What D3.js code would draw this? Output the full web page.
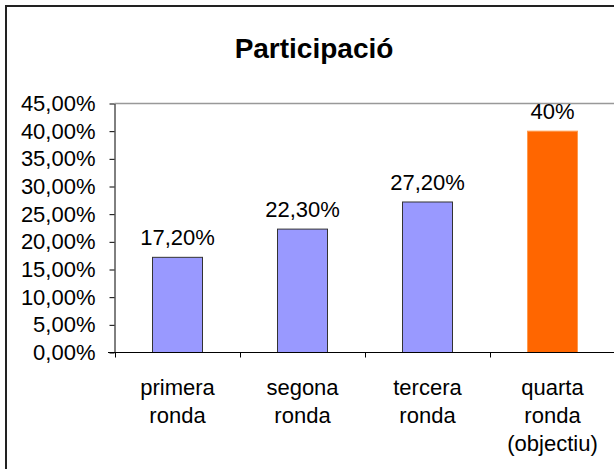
<!DOCTYPE html>
<html>
<head>
<meta charset="utf-8">
<script src="https://cdn.jsdelivr.net/npm/d3@7"></script>
<style>
  body { margin: 0; background: #fff; }
  text { font-family: "Liberation Sans", Arial, sans-serif; fill: #000; }
</style>
</head>
<body>
<div id="chart"></div>
<script>
// data
var categories = ["primera ronda", "segona ronda", "tercera ronda", "quarta ronda (objectiu)"];
var categoryLines = [["primera", "ronda"], ["segona", "ronda"], ["tercera", "ronda"], ["quarta", "ronda", "(objectiu)"]];
var values = [0.172, 0.223, 0.272, 0.40];
var valueLabels = ["17,20%", "22,30%", "27,20%", "40%"];
var barColors = ["#9999ff", "#9999ff", "#9999ff", "#ff6600"];
var yTicks = [0, 0.05, 0.10, 0.15, 0.20, 0.25, 0.30, 0.35, 0.40, 0.45];

var svgWidth = 614;
var svgHeight = 469;

var svg = d3.select("#chart")
    .append("svg")
    .attr("width", svgWidth)
    .attr("height", svgHeight);

// chart frame (runs off the right and bottom edges)
svg.append("rect")
    .attr("x", 6)
    .attr("y", 6)
    .attr("width", svgWidth + 20)
    .attr("height", svgHeight + 20)
    .attr("fill", "none")
    .attr("stroke", "#222")
    .attr("stroke-width", 2);

// title
svg.append("text")
    .attr("x", 314)
    .attr("y", 58)
    .attr("text-anchor", "middle")
    .attr("font-size", 28)
    .attr("font-weight", "bold")
    .text("Participació");

var locale = d3.formatLocale({ decimal: ",", thousands: ".", grouping: [3], currency: ["", "€"] });
var pct = locale.format(".2%");

var xScale = d3.scaleBand()
    .domain(categories)
    .range([115, 615])
    .paddingInner(0.6)
    .paddingOuter(0.3);

var yScale = d3.scaleLinear()
    .domain([0, 0.45])
    .range([352.5, 103.5]);

// top gridline
svg.append("line")
    .attr("x1", 114.5)
    .attr("x2", svgWidth)
    .attr("y1", yScale(0.45))
    .attr("y2", yScale(0.45))
    .attr("stroke", "#999")
    .attr("stroke-width", 1.5);

// bars
svg.append("g")
    .selectAll("rect")
    .data(values)
    .enter()
    .append("rect")
    .attr("x", (d, i) => xScale(categories[i]))
    .attr("y", d => yScale(d))
    .attr("width", xScale.bandwidth())
    .attr("height", d => yScale(0) - yScale(d))
    .attr("fill", (d, i) => barColors[i])
    .attr("stroke", (d, i) => i == 3 ? "#ff9a4d" : "#333")
    .attr("stroke-width", 1);

// value labels
svg.append("g")
    .selectAll("text")
    .data(values)
    .enter()
    .append("text")
    .attr("x", (d, i) => xScale(categories[i]) + xScale.bandwidth() / 2)
    .attr("y", d => yScale(d) - 12)
    .attr("text-anchor", "middle")
    .attr("font-size", 22)
    .text((d, i) => valueLabels[i]);

// y axis
var leftAxis = d3.axisLeft(yScale)
    .tickValues(yTicks)
    .tickFormat(pct)
    .tickSizeInner(5)
    .tickSizeOuter(0)
    .tickPadding(14);

var yAxis = svg.append("g")
    .attr("transform", "translate(114.5, 0)")
    .call(leftAxis);

yAxis.selectAll("text")
    .attr("font-size", 22)
    .attr("font-family", null);
yAxis.selectAll("line, path").attr("stroke", "#000");

// x axis: ticks at category boundaries
var boundaries = categories.map(c => xScale(c) - xScale.step() * xScale.paddingOuter());
var xAxisG = svg.append("g");

xAxisG.append("line")
    .attr("x1", 108)
    .attr("x2", svgWidth)
    .attr("y1", yScale(0))
    .attr("y2", yScale(0))
    .attr("stroke", "#000");

xAxisG.selectAll(".xtick")
    .data(boundaries)
    .enter()
    .append("line")
    .attr("class", "xtick")
    .attr("x1", d => Math.round(d) + 0.5)
    .attr("x2", d => Math.round(d) + 0.5)
    .attr("y1", yScale(0))
    .attr("y2", yScale(0) + 5)
    .attr("stroke", "#000");

// category labels
var catLabels = xAxisG.selectAll(".cat")
    .data(categories)
    .enter()
    .append("text")
    .attr("class", "cat")
    .attr("text-anchor", "middle")
    .attr("font-size", 22)
    .attr("x", d => xScale(d) + xScale.bandwidth() / 2)
    .attr("y", 395);

catLabels.each(function(d, i) {
    var t = d3.select(this);
    categoryLines[i].forEach(function(line, j) {
        t.append("tspan")
            .attr("x", xScale(d) + xScale.bandwidth() / 2)
            .attr("y", 395 + j * 28)
            .text(line);
    });
});
</script>
</body>
</html>
